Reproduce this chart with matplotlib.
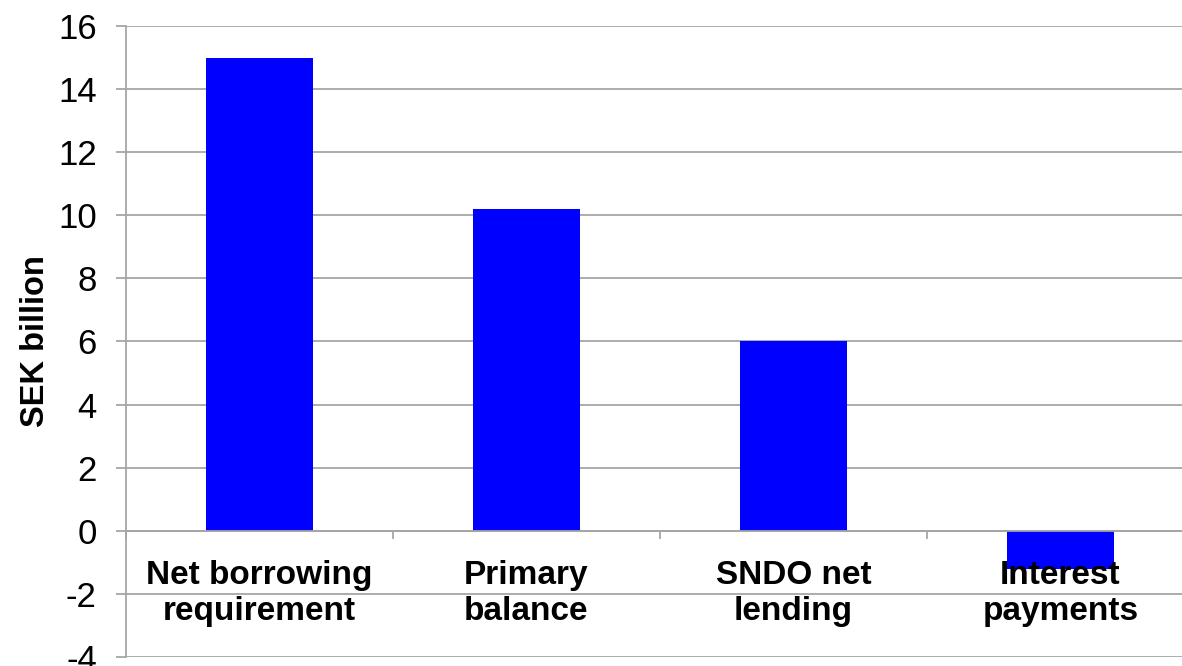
# Central government borrowing requirement breakdown, SEK billion
import matplotlib.pyplot as plt
import matplotlib.transforms as mtransforms

categories = ["Net borrowing\nrequirement", "Primary\nbalance", "SNDO net\nlending", "Interest\npayments"]
values = [15.0, 10.2, 6.0, -1.2]
y_ticks = list(range(-4, 17, 2))

plt.rcParams["font.family"] = ["Liberation Sans", "DejaVu Sans"]
grey = "#a6a6a6"

fig = plt.figure(figsize=(11.82, 6.66), dpi=100)
ax = fig.add_axes([126 / 1182, 9 / 666, (1194 - 126) / 1182, (657 - 26) / 666])

x = list(range(len(categories)))
ax.bar(x, values, width=0.4, color="#0000ff", zorder=3)

ax.set_xlim(-0.5, len(categories) - 0.5)
ax.set_ylim(-4, 16)
ax.set_yticks(y_ticks)
ax.set_yticklabels([str(t) for t in y_ticks], fontsize=25)
ax.yaxis.grid(True, color=grey, linewidth=1.3, zorder=0)
ax.tick_params(axis="y", length=7, width=1.3, color=grey, pad=14)

# x axis sits on the zero line, ticks between categories
ax.spines["bottom"].set_position(("data", 0))
ax.spines["bottom"].set_color(grey)
ax.spines["bottom"].set_linewidth(1.3)
ax.spines["bottom"].set_zorder(4)
ax.set_xticks([i - 0.5 for i in range(len(categories) + 1)])
ax.set_xticklabels([])
ax.tick_params(axis="x", length=6, width=1.3, color=grey, direction="out")
for s in ["top", "right"]:
    ax.spines[s].set_visible(False)
ax.spines["left"].set_color(grey)
ax.spines["left"].set_linewidth(1.3)

ax.set_ylabel("SEK billion", fontsize=23.5, fontweight="bold", labelpad=5)

trans = mtransforms.blended_transform_factory(ax.transData, ax.transData)
for i, label in enumerate(categories):
    ax.annotate(label, xy=(i, 0), xycoords=trans, xytext=(0, -21), textcoords="offset points",
                ha="center", va="top", fontsize=24, fontweight="bold", linespacing=1.2, zorder=5)

fig.savefig("out.png", dpi=100)
